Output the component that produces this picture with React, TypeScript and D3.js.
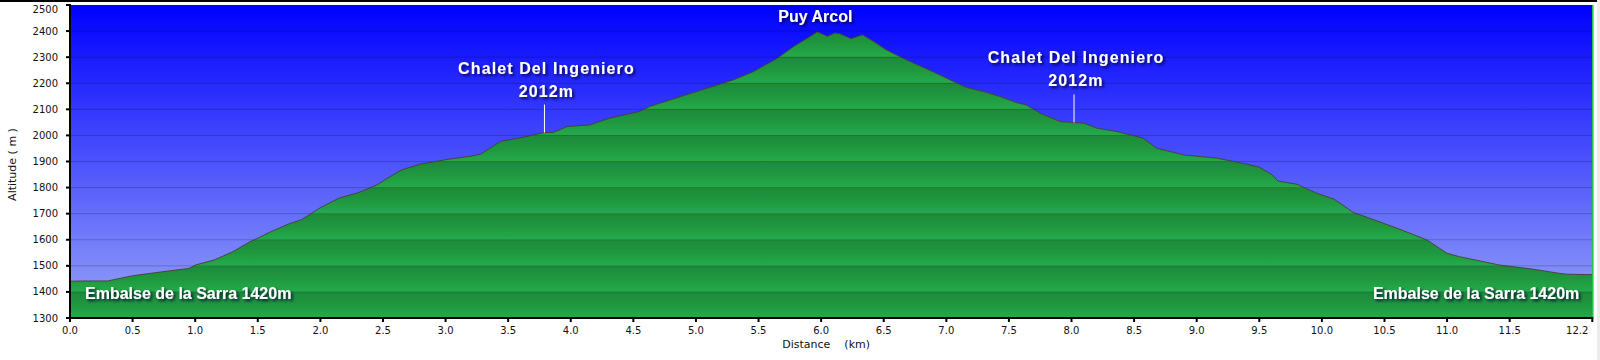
import React from "react";
import * as d3 from "d3";

const distances = [0, 0.1, 0.3, 0.5, 0.75, 0.95, 1.0, 1.15, 1.3, 1.44, 1.5, 1.6, 1.75, 1.85, 2.0, 2.15, 2.3, 2.45, 2.55, 2.65, 2.8, 3.04, 3.2, 3.28, 3.44, 3.65, 3.79, 3.86, 3.97, 4.15, 4.31, 4.55, 4.63, 5.03, 5.3, 5.46, 5.65, 5.78, 5.89, 5.97, 6.05, 6.11, 6.15, 6.24, 6.33, 6.42, 6.52, 6.68, 6.89, 7.03, 7.16, 7.3, 7.43, 7.56, 7.64, 7.75, 7.91, 8.1, 8.2, 8.36, 8.57, 8.68, 8.9, 9.16, 9.4, 9.5, 9.6, 9.65, 9.8, 9.95, 10.1, 10.25, 10.5, 10.65, 10.84, 11.0, 11.1, 11.42, 11.69, 11.9, 11.96, 12.16];
const altitudes = [1441, 1442, 1442, 1462, 1478, 1490, 1503, 1522, 1554, 1593, 1606, 1630, 1661, 1677, 1723, 1760, 1780, 1810, 1840, 1868, 1890, 1910, 1920, 1928, 1977, 1996, 2011, 2011, 2034, 2040, 2066, 2092, 2111, 2172, 2213, 2245, 2296, 2341, 2373, 2397, 2380, 2393, 2390, 2371, 2386, 2360, 2328, 2290, 2245, 2213, 2184, 2168, 2149, 2126, 2117, 2085, 2053, 2047, 2028, 2015, 1990, 1951, 1925, 1913, 1890, 1878, 1850, 1825, 1813, 1780, 1755, 1705, 1662, 1635, 1599, 1548, 1535, 1503, 1487, 1471, 1468, 1466];

const yTicks = [1300, 1400, 1500, 1600, 1700, 1800, 1900, 2000, 2100, 2200, 2300, 2400, 2500];
const xTicks = [0, 0.5, 1, 1.5, 2, 2.5, 3, 3.5, 4, 4.5, 5, 5.5, 6, 6.5, 7, 7.5, 8, 8.5, 9, 9.5, 10, 10.5, 11, 11.5, 12.16];
const xTickLabels = ["0.0", "0.5", "1.0", "1.5", "2.0", "2.5", "3.0", "3.5", "4.0", "4.5", "5.0", "5.5", "6.0", "6.5", "7.0", "7.5", "8.0", "8.5", "9.0", "9.5", "10.0", "10.5", "11.0", "11.5", "12.2"];

const markerDist = [3.79, 8.02];
const markerName = ["Chalet Del Ingeniero", "Chalet Del Ingeniero"];
const markerAlt = ["2012m", "2012m"];
const peakDist = 5.97;
const peakLabel = "Puy Arcol";
const endLabel = "Embalse de la Sarra 1420m";

const W = 1600, H = 360;
const left = 70, right = 1592.3, top = 5, bottom = 318;

export default function App() {
  const x = d3.scaleLinear().domain([0, 12.16]).range([left, right]);
  const y = d3.scaleLinear().domain([1300, 2500]).range([bottom, top]);
  const pts: [number, number][] = distances.map((d, i) => [d, altitudes[i]]);
  const area = d3.area<[number, number]>().x(d => x(d[0])).y0(bottom).y1(d => y(d[1]));
  const line = d3.line<[number, number]>().x(d => x(d[0])).y(d => y(d[1]));
  const altAt = (d: number) => {
    const i = d3.bisectLeft(distances, d);
    if (i <= 0) return altitudes[0];
    const t = (d - distances[i - 1]) / (distances[i] - distances[i - 1]);
    return altitudes[i - 1] + t * (altitudes[i] - altitudes[i - 1]);
  };
  const bands = yTicks.slice(0, -1);
  const font = "'Liberation Sans', Arial, sans-serif";
  const axisFont = "'DejaVu Sans', Verdana, sans-serif";
  const labelStyle = { fill: "#fff", fontFamily: font, fontWeight: 700, fontSize: 16, filter: "url(#shadow)" } as const;
  const peakX = x(peakDist), peakY = y(altAt(peakDist));
  const last = xTicks.length - 1;
  return (
    <svg width={W} height={H} style={{ position: "absolute", left: 0, top: 0, background: "#fff" }}>
      <defs>
        <linearGradient id="sky" x1="0" y1="0" x2="0" y2="1">
          <stop offset="0" stopColor="#0000ff" />
          <stop offset="1" stopColor="#98a5f7" />
        </linearGradient>
        <linearGradient id="band" x1="0" y1="0" x2="0" y2="1">
          <stop offset="0" stopColor="#1c8a3b" />
          <stop offset="0.5" stopColor="#1f983f" />
          <stop offset="1" stopColor="#24ab4b" />
        </linearGradient>
        <clipPath id="areaClip">
          <path d={area(pts) || ""} />
        </clipPath>
        <filter id="shadow" x="-20%" y="-40%" width="140%" height="180%">
          <feDropShadow dx="2" dy="2" stdDeviation="1.6" floodColor="#000030" floodOpacity="0.85" />
        </filter>
      </defs>
      <rect x={0} y={0} width={W} height={2} fill="#000" />
      <rect x={left} y={top} width={right - left} height={bottom - top} fill="url(#sky)" />
      <g clipPath="url(#areaClip)">
        {bands.map(b => (
          <rect key={b} x={left} y={y(b + 100)} width={right - left} height={y(b) - y(b + 100)} fill="url(#band)" />
        ))}
      </g>
      {yTicks.slice(1, -1).map(t => (
        <line key={t} x1={left} x2={right} y1={y(t)} y2={y(t)} stroke="#000" strokeOpacity={0.2} strokeWidth={1} />
      ))}
      <path d={line(pts) || ""} fill="none" stroke="#4a3d2e" strokeWidth={0.9} />
      <line x1={right + 0.5} x2={right + 0.5} y1={top} y2={bottom} stroke="#22c040" strokeWidth={1.5} />
      <rect x={1597} y={0} width={3} height={H} fill="#ececec" />
      <line x1={left} x2={left} y1={top - 1} y2={bottom + 4} stroke="#000" strokeWidth={2} />
      <line x1={left - 4} x2={right + 1} y1={bottom} y2={bottom} stroke="#000" strokeWidth={2} />
      {yTicks.map(t => (
        <g key={t}>
          <line x1={left - 4} x2={left} y1={y(t)} y2={y(t)} stroke="#000" strokeWidth={2} />
          <text x={58} y={Math.max(y(t), 9)} dy="0.35em" textAnchor="end" fontFamily={axisFont} fontSize={10} fill="#111">{t}</text>
        </g>
      ))}
      {xTicks.map((t, i) => (
        <g key={t}>
          <line x1={x(t)} x2={x(t)} y1={bottom} y2={bottom + 4} stroke="#000" strokeWidth={2} />
          <text x={i === last ? x(t) - 4 : x(t)} y={334} textAnchor={i === last ? "end" : "middle"} fontFamily={axisFont} fontSize={10} fill="#111">{xTickLabels[i]}</text>
        </g>
      ))}
      <text x={(left + right) / 2 - 5} y={348} textAnchor="middle" fontFamily={axisFont} fontSize={11} fill="#111" style={{ whiteSpace: "pre" }}>{"Distance    (km)"}</text>
      <text transform={`translate(16,${(top + bottom) / 2 + 3}) rotate(-90)`} textAnchor="middle" fontFamily={axisFont} fontSize={11} fill="#111" style={{ whiteSpace: "pre" }}>{"Altitude ( m )"}</text>
      {markerDist.map((d, i) => {
        const mx = x(d), my = y(altAt(d));
        return (
          <g key={i}>
            <line x1={mx} x2={mx} y1={my} y2={my - 28} stroke="#fff" strokeWidth={1} />
            <text x={mx + 2} y={my - 59} textAnchor="middle" letterSpacing={1.1} {...labelStyle}>{markerName[i]}</text>
            <text x={mx + 2} y={my - 36} textAnchor="middle" letterSpacing={1.1} {...labelStyle}>{markerAlt[i]}</text>
          </g>
        );
      })}
      <text x={peakX - 2} y={peakY - 10} textAnchor="middle" {...labelStyle}>{peakLabel}</text>
      <text x={x(0) + 15} y={y(1372)} textAnchor="start" {...labelStyle}>{endLabel}</text>
      <text x={x(12.16) - 13} y={y(1372)} textAnchor="end" {...labelStyle}>{endLabel}</text>
    </svg>
  );
}
